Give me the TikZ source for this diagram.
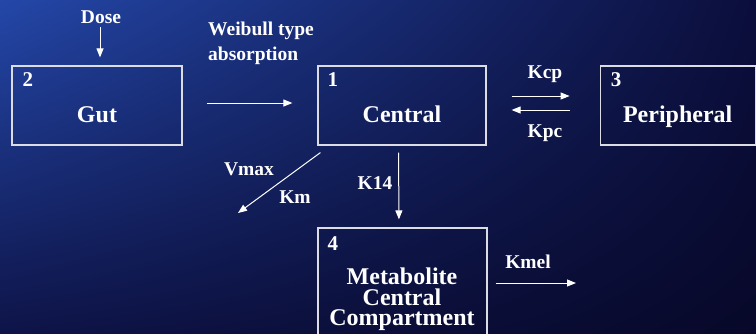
\documentclass[tikz,border=0pt]{standalone}
\usepackage{fontspec}
\setmainfont{Liberation Serif}
\usetikzlibrary{arrows.meta,calc,shadings}
\definecolor{skyglow}{HTML}{2447A8}
\definecolor{skydark}{HTML}{0B0E3C}
\definecolor{skyleft}{HTML}{0E1448}
\definecolor{skydeep}{HTML}{070829}
\definecolor{boxgray}{HTML}{DCDCE4}

\begin{document}
\begin{tikzpicture}[x=1pt, y=-1pt, >={Stealth[length=9pt, width=7pt, inset=0pt]},
  font=\bfseries, text=white,
  comp/.style={draw=boxgray, line width=1.2pt, inner sep=0pt},
  num/.style={anchor=north west, inner sep=0pt, font=\fontsize{21}{21}\bfseries},
  compname/.style={anchor=base, inner sep=0pt, font=\fontsize{24}{20.5}\bfseries, align=center},
  rate/.style={anchor=base, inner sep=0pt, font=\fontsize{19.5}{25}\bfseries},
  flow/.style={->, draw=white, line width=1pt}]

  % ---- background ----
  \clip (0,0) rectangle (756,333);
  \shade[upper left=skyglow, upper right=skydark, lower left=skyleft, lower right=skydeep]
    (0,0) rectangle (756,333);

  % ---- compartments ----
  \node[comp, minimum width=170pt, minimum height=79pt] (gut) at (97,105.5) {};
  \node[comp, minimum width=168pt, minimum height=79pt] (central) at (402,105.5) {};
  \node[comp, minimum width=155pt, minimum height=79pt] (periph) at (677.7,105.5) {};
  \node[comp, minimum width=169pt, minimum height=114pt] (metab) at (402.5,285) {};

  \node[num] (n2) at ($(gut.north west)+(11,7)$) {2};
  \node[num] (n1) at ($(central.north west)+(10,7)$) {1};
  \node[num] (n3) at ($(periph.north west)+(11,7)$) {3};
  \node[num] (n4) at ($(metab.north west)+(10,9)$) {4};

  \node[compname] (gutname) at ($(gut.center)+(0,16.5)$) {Gut};
  \node[compname] (centralname) at ($(central.center)+(0,16.5)$) {Central};
  \node[compname] (periphname) at ($(periph.center)+(0,16.5)$) {Peripheral};
  \node[compname, anchor=north] (metabname) at (402,268)
    {Metabolite\\ Central\\ Compartment};

  % ---- rate labels ----
  \node[rate] (dose) at (101,23) {Dose};
  \node[rate, anchor=base west, align=left] (weibull) at (208,60)
    {Weibull type\\ absorption};
  \node[rate] (kcp) at (545,78) {Kcp};
  \node[rate] (kpc) at (545,137) {Kpc};
  \node[rate] (vmax) at (249,175) {Vmax};
  \node[rate] (km) at (295,203) {Km};
  \node[rate] (k14) at (375,189) {K14};
  \node[rate] (kmel) at (528,268) {Kmel};

  % ---- connectors ----
  \coordinate (vmaxsink) at (238,213);
  \coordinate (kmelsink) at (576,283);

  \draw[flow, shorten <=4pt, shorten >=8pt] ([xshift=-1pt]dose.south) -- ([xshift=3pt]gut.north);
  \draw[flow, shorten <=24pt, shorten >=25pt] ([yshift=2.5pt]gut.east) -- ([yshift=2.5pt]central.west);
  \draw[flow, shorten <=25pt, shorten >=30pt] ([yshift=9.5pt]central.east) -- ([yshift=9.5pt]periph.west);
  \draw[flow, shorten <=30pt, shorten >=25pt] ([yshift=-4.5pt]periph.west) -- ([yshift=-4.5pt]central.east);
  \draw[flow] ([shift={(3,7)}]central.south west) -- (vmaxsink);
  \draw[flow, shorten <=7pt, shorten >=8pt] ([xshift=-3.5pt]central.south) -- ([xshift=-3.5pt]metab.north);
  \draw[flow, shorten <=8pt] ([yshift=2pt]metab.east) -- (kmelsink);

\end{tikzpicture}
\end{document}
